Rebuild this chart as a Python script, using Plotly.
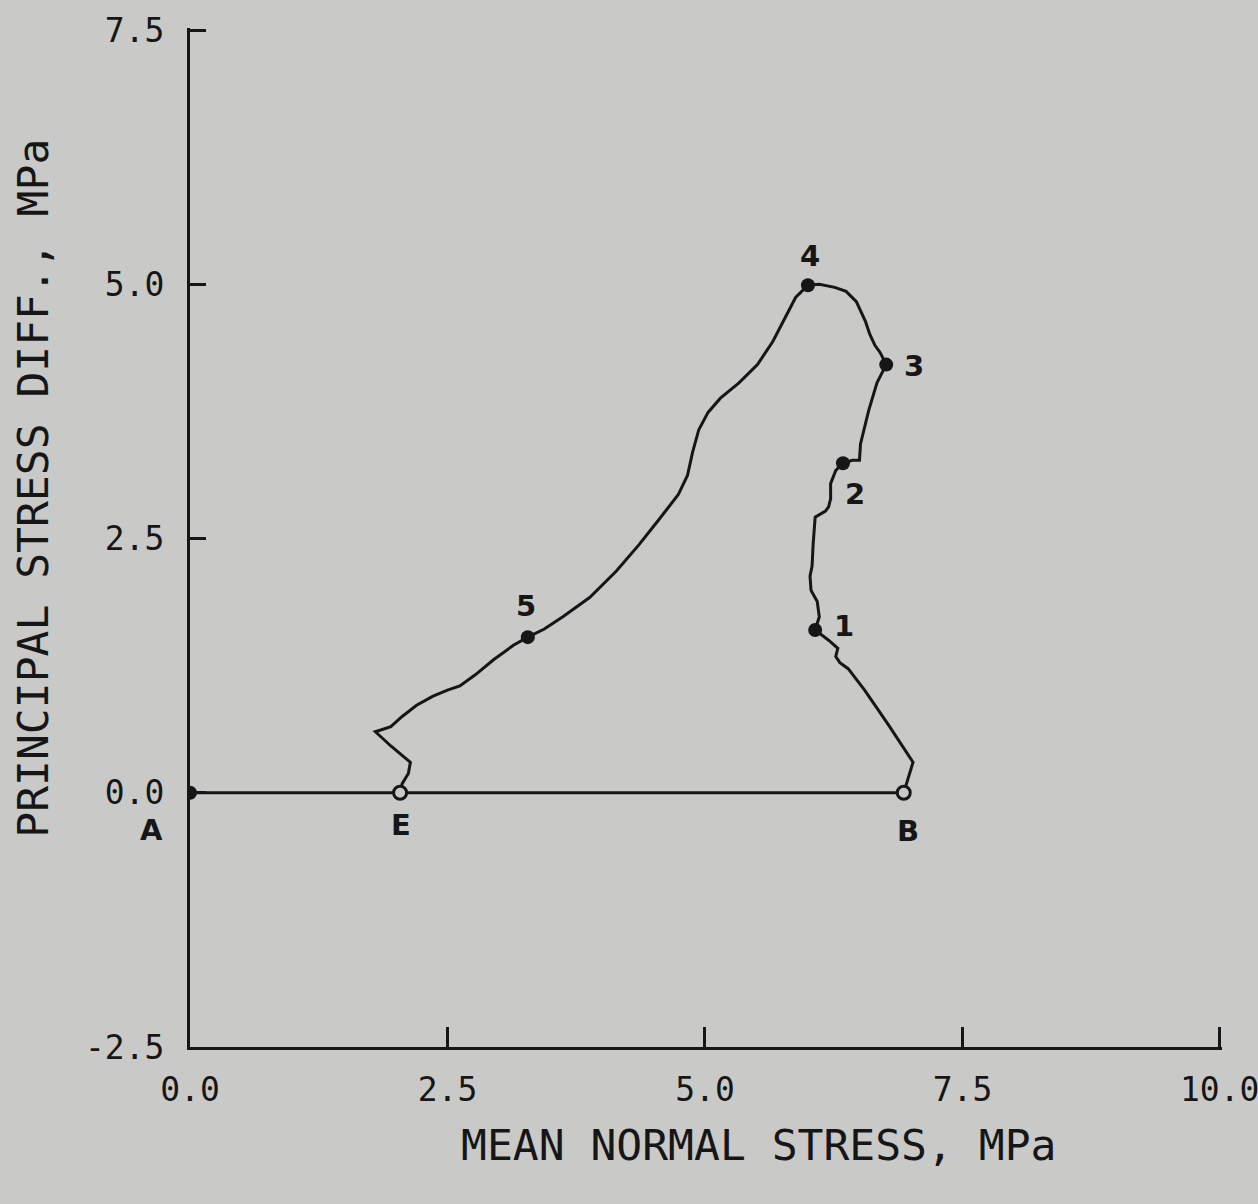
import plotly.graph_objects as go

# stress path A -> B -> 1 -> 2 -> 3 -> 4 -> 5 -> E
mean_stress = [0.00, 6.93, 7.02, 6.78, 6.55, 6.39, 6.31, 6.27, 6.29, 6.20, 6.07,
               6.11, 6.09, 6.03, 6.02, 6.04, 6.05, 6.07, 6.17, 6.20, 6.22, 6.22,
               6.27, 6.34, 6.43, 6.50, 6.51, 6.59, 6.67, 6.76, 6.70, 6.65, 6.60,
               6.56, 6.51, 6.47, 6.37, 6.26, 6.11, 6.00, 5.88, 5.78, 5.66, 5.51,
               5.33, 5.15, 5.03, 4.94, 4.88, 4.83, 4.74, 4.54, 4.36, 4.14, 3.88,
               3.62, 3.44, 3.28, 3.14, 2.95, 2.77, 2.62, 2.50, 2.36, 2.20, 2.06,
               1.95, 1.80, 1.95, 2.14, 2.12, 2.06, 2.04]
stress_diff = [0.00, 0.00, 0.30, 0.67, 1.01, 1.22, 1.28, 1.34, 1.42, 1.50, 1.60,
               1.73, 1.88, 1.99, 2.13, 2.23, 2.44, 2.71, 2.77, 2.81, 2.89, 3.04,
               3.17, 3.24, 3.27, 3.27, 3.43, 3.76, 4.03, 4.21, 4.33, 4.40, 4.51,
               4.63, 4.74, 4.83, 4.93, 4.97, 5.00, 4.99, 4.87, 4.67, 4.44, 4.21,
               4.03, 3.88, 3.74, 3.57, 3.35, 3.12, 2.93, 2.67, 2.44, 2.18, 1.92,
               1.73, 1.61, 1.53, 1.45, 1.31, 1.16, 1.05, 1.01, 0.95, 0.86, 0.75,
               0.65, 0.60, 0.46, 0.30, 0.19, 0.09, 0.00]

# labelled states
filled_x = [0.00, 6.07, 6.34, 6.76, 6.00, 3.28]   # A, 1, 2, 3, 4, 5
filled_y = [0.00, 1.60, 3.24, 4.21, 4.99, 1.53]
open_x = [6.93, 2.04]                               # B, E
open_y = [0.00, 0.00]

label_text = ["E", "B", "1", "2", "3", "4", "5"]
label_x = [2.05, 6.97, 6.35, 6.46, 7.03, 6.02, 3.26]
label_y = [-0.32, -0.38, 1.64, 2.94, 4.20, 5.28, 1.84]

x_ticks = [0, 2.5, 5, 7.5, 10]
x_ticklabels = ["0.0", "2.5", "5.0", "7.5", "10.0"]
y_ticks = [-2.5, 0, 2.5, 5, 7.5]
y_ticklabels = ["-2.5", "0.0", "2.5", "5.0", "7.5"]

BG = "#c9c9c7"
INK = "#161616"
MONO = "DejaVu Sans Mono"

fig = go.Figure()
fig.add_trace(go.Scatter(x=mean_stress, y=stress_diff, mode="lines",
                         line=dict(color=INK, width=3), showlegend=False))
fig.add_trace(go.Scatter(x=filled_x, y=filled_y, mode="markers",
                         marker=dict(size=14, color=INK), showlegend=False))
fig.add_trace(go.Scatter(x=open_x, y=open_y, mode="markers",
                         marker=dict(size=13, color=BG, line=dict(color=INK, width=3)),
                         showlegend=False))

for t, x, y in zip(label_text, label_x, label_y):
    fig.add_annotation(x=x, y=y, text="<b>" + t + "</b>", showarrow=False,
                       xanchor="center", yanchor="middle",
                       font=dict(family="DejaVu Sans", size=29, color=INK))
# A sits left of the axis, outside the data range
fig.add_annotation(xref="paper", yref="paper", x=-0.037, y=0.213, text="<b>A</b>",
                   xanchor="center", yanchor="middle", showarrow=False,
                   font=dict(family="DejaVu Sans", size=29, color=INK))

# the last x tick label runs off the page edge, so draw it as an annotation
fig.add_annotation(x=x_ticks[-1], yref="paper", y=-0.042, text=x_ticklabels[-1],
                   xanchor="center", yanchor="middle", showarrow=False,
                   font=dict(family=MONO, size=33, color=INK))

fig.add_annotation(xref="paper", yref="paper", x=0.5505, y=-0.096,
                   xanchor="center", yanchor="middle",
                   text="MEAN NORMAL STRESS, MPa", showarrow=False,
                   font=dict(family=MONO, size=43, color=INK))
fig.add_annotation(xref="paper", yref="paper", x=-0.153, y=0.548, textangle=-90,
                   xanchor="center", yanchor="middle",
                   text="PRINCIPAL STRESS DIFF., MPa", showarrow=False,
                   font=dict(family=MONO, size=43, color=INK))

fig.update_layout(
    width=1258, height=1204,
    margin=dict(l=190, r=36, t=28, b=157),
    paper_bgcolor=BG, plot_bgcolor=BG,
    xaxis=dict(range=[0, 10.02], tickvals=x_ticks,
               ticktext=x_ticklabels[:-1] + [""],
               ticks="inside", ticklen=20, tickwidth=3, tickcolor=INK,
               showline=True, linecolor=INK, linewidth=3, mirror=False,
               showgrid=False, zeroline=False, ticklabelstandoff=11,
               tickfont=dict(family=MONO, size=33, color=INK)),
    yaxis=dict(range=[-2.5, 7.52], tickvals=y_ticks, ticktext=y_ticklabels,
               ticks="inside", ticklen=16, tickwidth=3, tickcolor=INK,
               showline=True, linecolor=INK, linewidth=3, mirror=False,
               showgrid=False, zeroline=False, ticklabelstandoff=16,
               tickfont=dict(family=MONO, size=33, color=INK)),
)

fig.write_html("out.html", config={"displayModeBar": False},
               post_script="document.body.style.margin='0px';")
